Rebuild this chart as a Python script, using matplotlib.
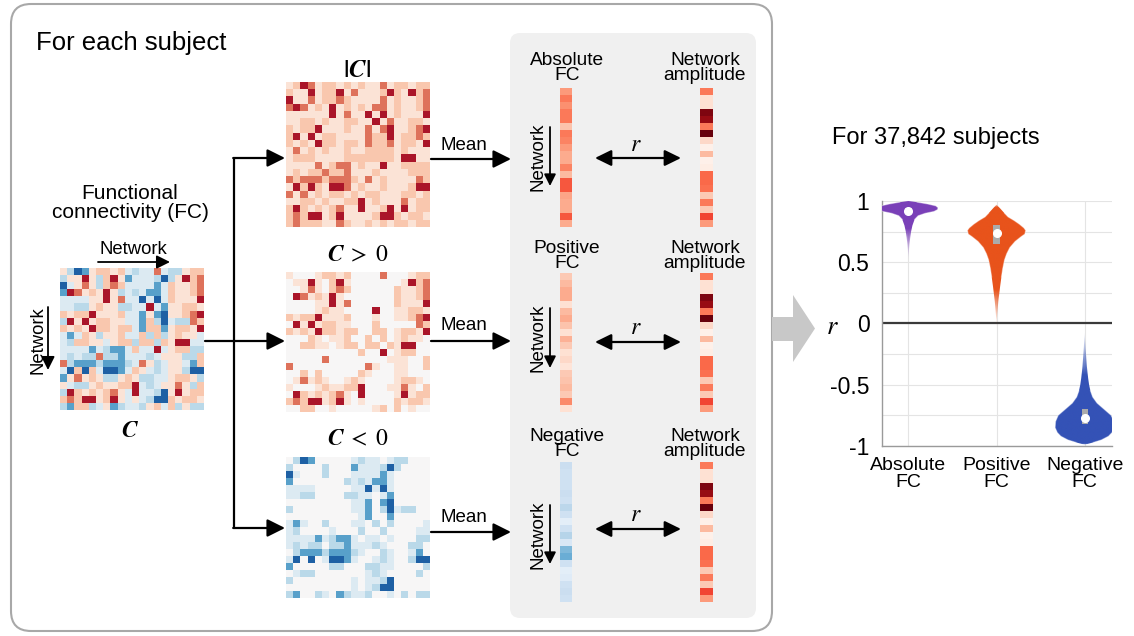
import numpy as np
import matplotlib
matplotlib.use('Agg')
import matplotlib.pyplot as plt
from matplotlib.patches import FancyBboxPatch, Polygon, Rectangle
from matplotlib.colors import Normalize, to_rgb

plt.rcParams['font.family'] = ['Liberation Sans', 'DejaVu Sans']
plt.rcParams['mathtext.fontset'] = 'stix'

# ---------------- data ----------------
# functional connectivity matrix (20 x 20 networks)
fc_matrix = [
    [0.15, -0.3, -0.9, -0.6, 0.15, 0.3, 0.3, 0.15, 0.3, -0.15, -0.3, -0.15, -0.15, 0.6, -0.15, -0.3, -0.3, 0.15, 0.3, 0.3],
    [-0.3, 0.15, 0.15, 0.9, 0.15, -0.3, 0.3, 0.9, 0.15, -0.6, -0.15, -0.15, -0.15, -0.3, -0.9, -0.3, 0.15, 0.9, 0.3, 0.6],
    [-0.9, -0.15, 0.15, 0.6, 0.15, -0.3, 0.3, 0.6, 0.3, -0.15, -0.15, -0.15, -0.15, -0.6, -0.15, 0.3, 0.15, 0.15, 0.3, 0.6],
    [-0.6, 0.9, 0.6, 0.15, 0.3, 0.15, 0.9, 0.15, -0.3, -0.15, -0.3, -0.15, -0.6, -0.6, -0.15, 0.3, 0.15, 0.15, 0.3, 0.6],
    [-0.15, -0.15, -0.15, -0.15, 0.15, 0.15, 0.9, 0.15, 0.6, -0.15, -0.15, -0.9, -0.15, -0.9, -0.15, 0.3, 0.15, 0.15, 0.15, 0.9],
    [-0.15, -0.15, -0.3, -0.3, 0.15, 0.3, 0.15, 0.15, -0.3, -0.3, -0.15, -0.15, 0.9, -0.15, -0.6, 0.15, 0.15, 0.3, 0.3, 0.15],
    [0.3, 0.15, 0.3, 0.3, 0.9, 0.15, 0.15, 0.15, 0.3, -0.15, -0.15, -0.6, 0.15, -0.6, -0.9, 0.15, 0.15, 0.3, 0.6, 0.9],
    [-0.3, 0.9, 0.15, 0.9, 0.15, 0.3, 0.3, 0.15, 0.15, -0.15, -0.15, -0.6, 0.3, -0.3, -0.9, -0.15, -0.3, -0.3, 0.6, 0.3],
    [0.3, 0.15, 0.3, 0.15, 0.9, 0.3, 0.3, 0.15, 0.3, 0.3, -0.15, -0.6, 0.3, 0.3, -0.6, 0.15, 0.3, 0.3, 0.15, 0.9],
    [-0.15, -0.6, -0.15, 0.3, 0.15, -0.3, 0.15, 0.15, 0.3, -0.15, -0.15, 0.3, -0.3, 0.3, -0.3, 0.15, 0.3, 0.15, 0.15, -0.15],
    [-0.15, -0.3, 0.3, 0.3, 0.15, 0.15, -0.15, 0.15, 0.3, 0.3, -0.3, 0.3, 0.3, -0.3, 0.3, 0.15, 0.9, 0.9, -0.15, -0.15],
    [-0.15, -0.15, -0.15, -0.15, -0.6, -0.15, -0.3, -0.6, -0.6, -0.15, 0.3, -0.15, -0.15, 0.9, -0.15, 0.15, 0.3, 0.3, -0.3, -0.3],
    [-0.15, -0.3, -0.15, -0.3, -0.3, 0.6, -0.3, -0.3, -0.6, -0.15, -0.15, -0.15, -0.3, -0.15, 0.15, 0.15, 0.15, -0.3, -0.3, 0.3],
    [0.6, -0.3, -0.6, -0.6, -0.6, -0.3, -0.6, -0.6, -0.6, -0.3, -0.15, 0.6, 0.15, -0.3, -0.15, 0.15, 0.15, -0.15, -0.6, 0.3],
    [-0.15, -0.9, 0.3, -0.9, 0.3, -0.15, -0.9, -0.9, -0.6, -0.15, 0.3, 0.15, -0.15, -0.3, -0.15, 0.15, 0.15, -0.3, -0.9, -0.9],
    [-0.6, 0.15, 0.6, 0.15, 0.3, 0.15, -0.3, -0.3, 0.15, 0.3, 0.15, -0.3, -0.3, -0.15, -0.15, 0.15, 0.3, 0.3, 0.15, -0.3],
    [0.15, -0.15, -0.3, -0.3, 0.15, 0.3, 0.15, 0.15, 0.3, 0.3, 0.9, -0.15, -0.3, -0.15, 0.15, 0.15, 0.6, 0.15, -0.3, 0.3],
    [-0.3, 0.9, 0.3, 0.15, 0.3, 0.15, 0.3, 0.6, 0.15, -0.15, 0.9, -0.15, -0.15, -0.3, -0.9, 0.15, 0.9, 0.15, 0.3, 0.3],
    [0.3, 0.6, 0.3, 0.9, 0.9, 0.15, 0.3, 0.9, 0.15, -0.15, 0.15, -0.15, -0.3, -0.9, -0.9, 0.3, 0.15, 0.3, 0.3, 0.15],
    [-0.3, -0.6, 0.3, 0.3, -0.3, -0.15, 0.15, -0.6, -0.3, -0.15, -0.15, -0.3, 0.15, 0.3, -0.15, 0.3, -0.3, 0.15, -0.3, -0.3],
]

# network-wise mean FC vectors and network amplitude (0-1 colour scale)
abs_fc = [0.35, 0.45, 0.38, 0.45, 0.45, 0.22, 0.45, 0.42, 0.35, 0.30,
          0.30, 0.42, 0.25, 0.55, 0.55, 0.32, 0.30, 0.30, 0.55, 0.30]
pos_fc = [0.20, 0.25, 0.30, 0.30, 0.12, 0.25, 0.30, 0.22, 0.12, 0.28,
          0.20, 0.12, 0.15, 0.10, 0.20, 0.22, 0.25, 0.20, 0.40, 0.12]
neg_fc = [0.22, 0.20, 0.20, 0.20, 0.22, 0.20, 0.28, 0.20, 0.10, 0.20,
          0.30, 0.15, 0.45, 0.50, 0.20, 0.10, 0.12, 0.20, 0.22, 0.20]
amplitude = [0.45, 0.12, 0.12, 0.95, 0.90, 0.45, 1.00, 0.15, 0.03, 0.25,
             0.03, 0.05, 0.50, 0.50, 0.48, 0.20, 0.45, 0.20, 0.60, 0.35]

# violin plot (correlation r across subjects): outline profiles
violin_labels = ['Absolute\nFC', 'Positive\nFC', 'Negative\nFC']
violin_colors = ['#7a40b8', '#e8531b', '#3452b6']
abs_r = [1.00, 0.99, 0.975, 0.96, 0.945, 0.93, 0.915, 0.90, 0.88, 0.85, 0.80, 0.75, 0.70, 0.65, 0.60, 0.55, 0.52]
abs_w = [0.00, 0.10, 0.22, 0.31, 0.335, 0.33, 0.29, 0.19, 0.11, 0.07, 0.045, 0.03, 0.02, 0.012, 0.006, 0.002, 0.0]
pos_r = [0.97, 0.94, 0.90, 0.87, 0.84, 0.81, 0.78, 0.76, 0.73, 0.71, 0.67, 0.62, 0.57, 0.52, 0.45, 0.38, 0.30, 0.24, 0.18, 0.14, 0.08, 0.03, -0.05]
pos_w = [0.00, 0.04, 0.09, 0.13, 0.20, 0.26, 0.31, 0.33, 0.32, 0.28, 0.21, 0.15, 0.115, 0.09, 0.07, 0.055, 0.04, 0.03, 0.02, 0.015, 0.008, 0.003, 0.0]
neg_r = [-0.99, -0.97, -0.95, -0.92, -0.89, -0.85, -0.80, -0.75, -0.70, -0.65, -0.60, -0.55, -0.50, -0.45, -0.40, -0.35, -0.30, -0.25, -0.20, -0.15, -0.10, -0.07]
neg_w = [0.00, 0.10, 0.19, 0.27, 0.31, 0.335, 0.33, 0.30, 0.22, 0.14, 0.09, 0.065, 0.05, 0.04, 0.032, 0.025, 0.02, 0.015, 0.01, 0.006, 0.002, 0.0]
medians = [0.92, 0.74, -0.77]
q1 = [0.895, 0.645, -0.82]
q3 = [0.945, 0.80, -0.70]
yticks = [-1, -0.5, 0, 0.5, 1]
ytick_labels = ['-1', '-0.5', '0', '0.5', '1']

# ---------------- figure ----------------
fig = plt.figure(figsize=(11.34, 6.36), dpi=100)
ax0 = fig.add_axes([0, 0, 1, 1])
ax0.axis('off')

# outer rounded box and grey panel
ax0.add_patch(FancyBboxPatch((11, 4), 761, 627, boxstyle='round,pad=0,rounding_size=20',
                             fc='none', ec='#a8a8a8', lw=1.5, zorder=1))
ax0.add_patch(FancyBboxPatch((510, 33), 246, 585, boxstyle='round,pad=0,rounding_size=10',
                             fc='#f0f0f0', ec='none', zorder=0))
# big grey arrow
ax0.add_patch(Polygon([(772, 317), (793, 317), (793, 295), (815, 328.5), (793, 362),
                       (793, 341), (772, 341)], closed=True, fc='#c8c8c8', ec='none', zorder=2))

C = np.array(fc_matrix)
norm = Normalize(vmin=-1.1, vmax=1.1)
cm = plt.get_cmap('RdBu_r')
kw = dict(cmap=cm, norm=norm, interpolation='nearest', aspect='auto', zorder=3)
ax0.imshow(C, extent=(60, 204, 410, 268), **kw)
ax0.imshow(np.abs(C), extent=(286, 430, 227, 82), **kw)
ax0.imshow(np.maximum(C, 0), extent=(286, 430, 412, 272), **kw)
ax0.imshow(np.minimum(C, 0), extent=(286, 430, 598, 457), **kw)

vkw = dict(interpolation='nearest', aspect='auto', zorder=3, vmin=0, vmax=1)
vec_y = [(88, 227), (273, 412), (462, 602)]
for (y0, y1), vec, cmapn in zip(vec_y, [abs_fc, pos_fc, neg_fc], ['Reds', 'Reds', 'Blues']):
    ax0.imshow(np.array(vec)[:, None], extent=(560, 572, y1, y0), cmap=cmapn, **vkw)
    ax0.imshow(np.array(amplitude)[:, None], extent=(700, 713, y1, y0), cmap='Reds', **vkw)

ax0.set_xlim(0, 1134)
ax0.set_ylim(636, 0)


def arrow(x0, y0, x1, y1, lw=1.6, hl=0.6, hw=0.3, ms=18, both=False):
    style = ('<|-|>' if both else '-|>') + f',head_length={hl},head_width={hw}'
    ax0.annotate('', xy=(x1, y1), xytext=(x0, y0),
                 arrowprops=dict(arrowstyle=style, color='black', lw=lw,
                                 mutation_scale=ms, shrinkA=0, shrinkB=0), zorder=4)


# texts
ax0.text(36, 43, 'For each subject', fontsize=18.5, va='center', ha='left')
ax0.text(832, 138, 'For 37,842 subjects', fontsize=17, va='center', ha='left')
ax0.text(130, 203, 'Functional\nconnectivity (FC)', fontsize=15, ha='center', va='center',
         linespacing=1.0)
ax0.text(133, 249, 'Network', fontsize=13.3, ha='center', va='center')
arrow(98, 262, 170, 262, lw=1.3, hl=0.5, hw=0.25, ms=16)
ax0.text(38, 340, 'Network', fontsize=13.3, ha='center', va='center', rotation=90)
arrow(48, 307, 48, 370, lw=1.3, hl=0.5, hw=0.25, ms=16)
ax0.text(130, 431, r'$\mathbfit{C}$', fontsize=17, ha='center', va='center')
ax0.text(357, 70, r'$\mathbf{|}\mathbfit{C}\mathbf{|}$', fontsize=18, ha='center', va='center')
ax0.text(358, 255, r'$\mathbfit{C}\;>\;0$', fontsize=17, ha='center', va='center')
ax0.text(358, 439, r'$\mathbfit{C}\;<\;0$', fontsize=17, ha='center', va='center')

# branching connectors
ax0.plot([234, 234], [158, 528], color='black', lw=1.6, zorder=4, solid_capstyle='butt')
arrow(205, 341, 285, 341)
arrow(233.2, 158, 285, 158)
arrow(233.2, 528, 285, 528)

# mean arrows
for ya, yt in [(159, 145), (341, 325), (532, 517)]:
    arrow(431, ya, 511, ya)
    ax0.text(464, yt, 'Mean', fontsize=13.5, ha='center', va='center')

# vector panels
labels_top = [('Absolute\nFC', 68), ('Positive\nFC', 256), ('Negative\nFC', 444)]
for (lab, yc) in labels_top:
    ax0.text(567, yc, lab, fontsize=13.8, ha='center', va='center', linespacing=0.9)
    ax0.text(705, yc, 'Network\namplitude', fontsize=13.8, ha='center', va='center',
             linespacing=0.9)
for (y0, y1), (yr, yrt) in zip([(127, 186), (308, 368), (505, 564)],
                               [(158, 145), (342, 328), (529, 515)]):
    ax0.text(538, (y0 + y1) / 2, 'Network', fontsize=13.5, ha='center', va='center', rotation=90)
    arrow(550, y0, 550, y1, lw=1.3, hl=0.5, hw=0.25, ms=14)
    arrow(595, yr, 681, yr, lw=1.6, hl=0.55, hw=0.27, ms=18, both=True)
    ax0.text(636, yrt, '$r$', fontsize=17, ha='center', va='center')

ax0.text(832, 327, '$r$', fontsize=19, ha='center', va='center')

# ---------------- violin axes ----------------
axv = fig.add_axes([882 / 1134, 1 - 446 / 636, 230 / 1134, 245 / 636])
axv.set_facecolor('none')
profiles = [(abs_r, abs_w), (pos_r, pos_w), (neg_r, neg_w)]
ygrid = np.linspace(-1.05, 1.05, 600)
for i, ((rv, wv), col) in enumerate(zip(profiles, violin_colors)):
    x = i + 1
    rv = np.array(rv)
    wv = np.array(wv)
    xy = np.concatenate([np.column_stack([x - wv, rv]),
                         np.column_stack([x + wv[::-1], rv[::-1]])])
    patch = Polygon(xy, closed=True, fc='none', ec='none')
    axv.add_patch(patch)
    order = np.argsort(rv)
    width_at = np.interp(ygrid, rv[order], wv[order], left=0, right=0)
    alpha = np.clip(width_at / 0.035, 0, 1) ** 0.8
    img = np.zeros((len(ygrid), 2, 4))
    img[..., :3] = to_rgb(col)
    img[..., 3] = alpha[:, None]
    im = axv.imshow(img, extent=(x - 0.4, x + 0.4, -1.05, 1.05), origin='lower',
                    aspect='auto', interpolation='bilinear', zorder=3)
    im.set_clip_path(patch)
    body = wv > 0.05
    axv.plot(x - wv[body], rv[body], color='white', alpha=0.35, lw=0.8, zorder=4)
    axv.plot(x + wv[body], rv[body], color='white', alpha=0.35, lw=0.8, zorder=4)
    axv.add_patch(Rectangle((x - 0.035, q1[i]), 0.07, q3[i] - q1[i], fc='#ababab',
                            ec='none', zorder=5))
    axv.plot([x], [medians[i]], 'o', color='white', ms=5.5, zorder=6)

axv.axhline(0, color='#3a3a3a', lw=1.6, zorder=2)
axv.set_xlim(0.7, 3.31)
axv.set_ylim(-1, 1)
axv.set_yticks(yticks)
axv.set_yticklabels(ytick_labels)
axv.set_yticks([-0.75, -0.25, 0.25, 0.75], minor=True)
axv.set_xticks([1, 2, 3])
axv.set_xticklabels(violin_labels, linespacing=1.0)
axv.grid(True, which='both', color='#e4e4e4', lw=0.8, zorder=0)
axv.set_axisbelow(True)
axv.tick_params(axis='y', which='both', length=0, pad=9, labelsize=16.5)
axv.tick_params(axis='x', length=0, pad=8, labelsize=14)
for s in ['top', 'right']:
    axv.spines[s].set_visible(False)
for s in ['left', 'bottom']:
    axv.spines[s].set_color('#9a9a9a')
    axv.spines[s].set_linewidth(1.0)

fig.savefig('out.png', dpi=100)
